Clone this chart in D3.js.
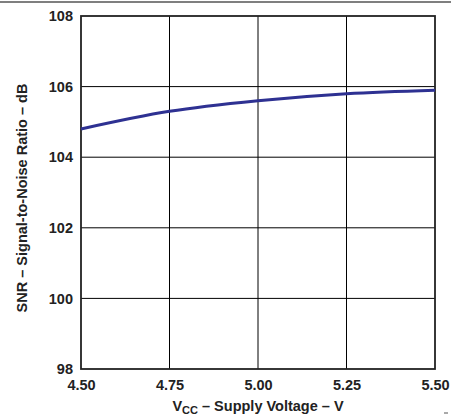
<!DOCTYPE html>
<html>
<head>
<meta charset="utf-8">
<script src="https://cdn.jsdelivr.net/npm/d3@7"></script>
<style>
  body { margin: 0; background: #fff; }
  svg { display: block; font-family: "Liberation Sans", Arial, sans-serif; }
</style>
</head>
<body>
<svg id="chart" width="451" height="418"></svg>
<script>
// Data
const voltages = [4.50, 4.75, 5.00, 5.25, 5.50];
const snrValues = [104.8, 105.3, 105.6, 105.8, 105.9];
const xTicks = [4.50, 4.75, 5.00, 5.25, 5.50];
const yTicks = [98, 100, 102, 104, 106, 108];

const svg = d3.select("#chart");
const margin = { top: 16, right: 16, bottom: 49, left: 81 };
const width = 451, height = 418;
const w = width - margin.left - margin.right;
const h = height - margin.top - margin.bottom;
const fs = 14.5;

// rule across the top of the page
svg.append("line")
  .attr("x1", 0).attr("x2", width)
  .attr("y1", 2).attr("y2", 2)
  .attr("stroke", "#000").attr("stroke-width", 1.2);

const g = svg.append("g").attr("transform", `translate(${margin.left},${margin.top})`);

const x = d3.scaleLinear().domain([4.5, 5.5]).range([0, w]);
const y = d3.scaleLinear().domain([98, 108]).range([h, 0]);

// grid
g.append("g")
  .selectAll("line")
  .data(xTicks.slice(1, -1))
  .join("line")
    .attr("x1", d => x(d)).attr("x2", d => x(d))
    .attr("y1", 0).attr("y2", h)
    .attr("stroke", "#000").attr("stroke-width", 1);

g.append("g")
  .selectAll("line")
  .data(yTicks.slice(1, -1))
  .join("line")
    .attr("x1", 0).attr("x2", w)
    .attr("y1", d => y(d)).attr("y2", d => y(d))
    .attr("stroke", "#000").attr("stroke-width", 1);

// frame
g.append("rect")
  .attr("width", w).attr("height", h)
  .attr("fill", "none")
  .attr("stroke", "#222").attr("stroke-width", 1.8);

// axes (labels only)
const xAxis = g.append("g")
  .attr("transform", `translate(0,${h})`)
  .call(d3.axisBottom(x).tickValues(xTicks).tickFormat(d3.format(".2f")).tickSize(0).tickPadding(11));
const yAxis = g.append("g")
  .call(d3.axisLeft(y).tickValues(yTicks).tickFormat(d3.format("d")).tickSize(0).tickPadding(8));

[xAxis, yAxis].forEach(a => {
  a.select(".domain").remove();
  a.selectAll("text")
    .attr("font-family", "'Liberation Sans', Arial, sans-serif")
    .attr("font-size", fs)
    .attr("font-weight", "bold")
    .attr("fill", "#222");
});

// data line
const line = d3.line()
  .x((d, i) => x(voltages[i]))
  .y(d => y(d))
  .curve(d3.curveMonotoneX);

g.append("path")
  .datum(snrValues)
  .attr("fill", "none")
  .attr("stroke", "#2e3192")
  .attr("stroke-width", 3)
  .attr("d", line);

// axis titles
const xt = svg.append("text")
  .attr("x", margin.left + w / 2)
  .attr("y", 411)
  .attr("text-anchor", "middle")
  .attr("font-size", fs)
  .attr("font-weight", "bold")
  .attr("fill", "#222");
xt.append("tspan").text("V");
xt.append("tspan").text("CC").attr("font-size", 11).attr("dy", 3);
xt.append("tspan").text(" – Supply Voltage – V").attr("dy", -3);

svg.append("text")
  .attr("transform", `translate(27,198) rotate(-90)`)
  .attr("text-anchor", "middle")
  .attr("font-size", fs)
  .attr("font-weight", "bold")
  .attr("fill", "#222")
  .text("SNR – Signal-to-Noise Ratio – dB");

// small mark bottom right
svg.append("line")
  .attr("x1", 444).attr("x2", 448)
  .attr("y1", 413).attr("y2", 413)
  .attr("stroke", "#555").attr("stroke-width", 1);
</script>
</body>
</html>
